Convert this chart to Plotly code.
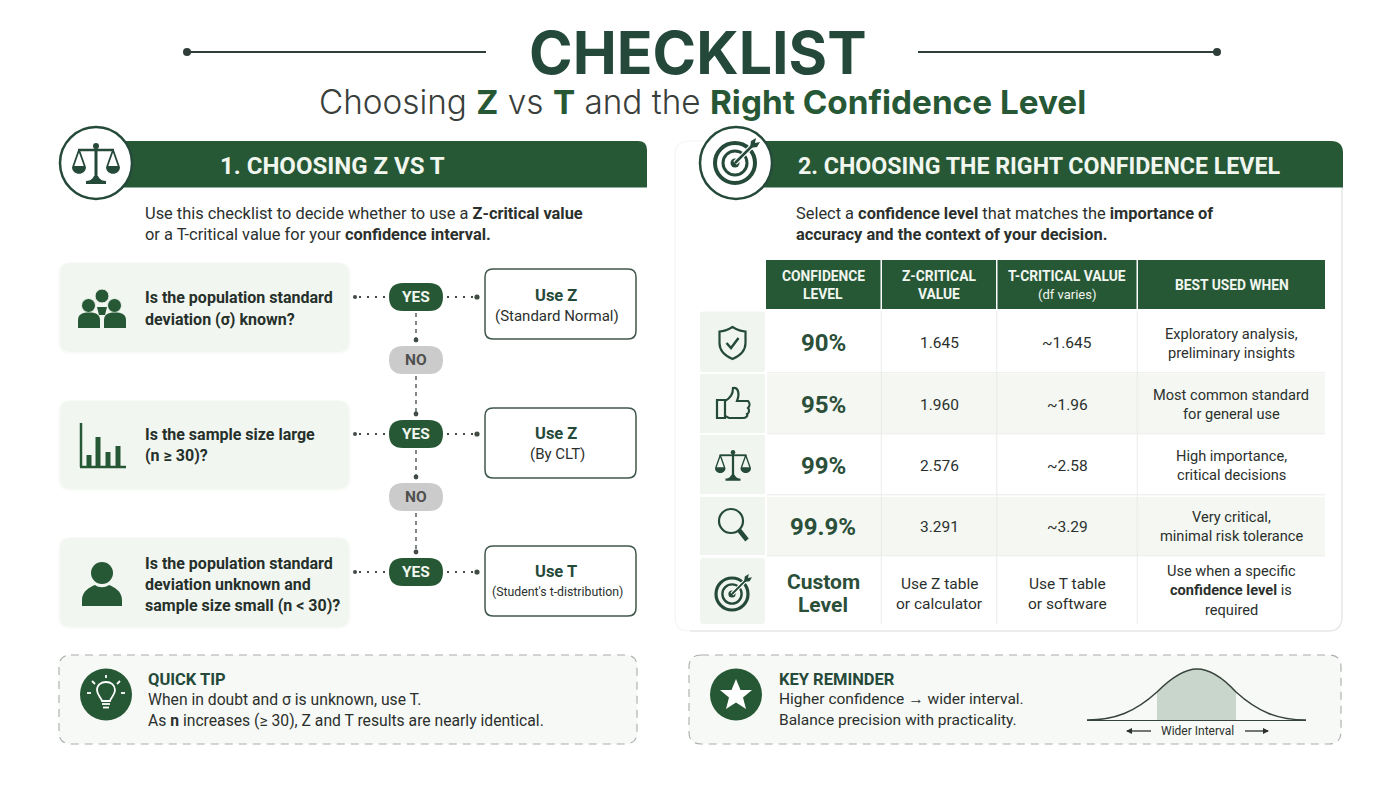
#!/usr/bin/env python3
"""
Checklist infographic: choosing Z vs T and the confidence level
"""

import re
import plotly.graph_objects as go

# Text and values
title = "CHECKLIST"
subtitle_parts = [("Choosing ", False), ("Z", True), (" vs ", False), ("T", True), (" and the ", False), ("Right Confidence Level", True)]
left_heading = "1. CHOOSING Z VS T"
right_heading = "2. CHOOSING THE RIGHT CONFIDENCE LEVEL"
left_intro = ["Use this checklist to decide whether to use a <b>Z-critical value</b>",
              "or a T-critical value for your <b>confidence interval.</b>"]
right_intro = ["Select a <b>confidence level</b> that matches the <b>importance of</b>",
               "<b>accuracy and the context of your decision.</b>"]
questions = [["Is the population standard", "deviation (σ) known?"],
             ["Is the sample size large", "(n ≥ 30)?"],
             ["Is the population standard", "deviation unknown and", "sample size small (n < 30)?"]]
results = [("Use Z", "(Standard Normal)"), ("Use Z", "(By CLT)"), ("Use T", "(Student's t-distribution)")]
table_headers = [["CONFIDENCE", "LEVEL"], ["Z-CRITICAL", "VALUE"], ["T-CRITICAL VALUE", "(df varies)"], ["BEST USED WHEN"]]
confidence_levels = [["90%"], ["95%"], ["99%"], ["99.9%"], ["Custom", "Level"]]
z_values = [["1.645"], ["1.960"], ["2.576"], ["3.291"], ["Use Z table", "or calculator"]]
t_values = [["~1.645"], ["~1.96"], ["~2.58"], ["~3.29"], ["Use T table", "or software"]]
best_used = [["Exploratory analysis,", "preliminary insights"],
             ["Most common standard", "for general use"],
             ["High importance,", "critical decisions"],
             ["Very critical,", "minimal risk tolerance"],
             ["Use when a specific", "<b>confidence level</b> is", "required"]]
tip_lines = ["When in doubt and σ is unknown, use T.",
             "As <b>n</b> increases (≥ 30), Z and T results are nearly identical."]
reminder_lines = ["Higher confidence → wider interval.", "Balance precision with practicality."]

GREEN = "#275836"
DARK = "#254a3a"
INK = "#2b302d"
PALE = "#f2f6f0"
FLOW = "#414c45"
BODY = "Roboto"

shapes = []
notes = []


def text(x, y, s, size=15, color=INK, anchor="center", family=BODY, weight=None):
    font = dict(family=family, size=size, color=color)
    if weight:
        font["weight"] = weight
    if anchor == "left":
        x -= 2  # annotations carry a small inner pad
    notes.append(dict(x=x, y=y, xref="x", yref="y", text=s, showarrow=False,
                      xanchor=anchor, yanchor="middle", font=font))


def path(d, fill=None, line=None, width=0, dash=None):
    ln = dict(color=line or "rgba(0,0,0,0)", width=width)
    if dash:
        ln["dash"] = dash
    shapes.append(dict(type="path", path=d, xref="x", yref="y", fillcolor=fill or "rgba(0,0,0,0)", line=ln))


def rrect(x0, y0, x1, y1, r=0, **kw):
    # corner radius either one number or (tl, tr, br, bl)
    tl, tr, br, bl = r if isinstance(r, tuple) else (r, r, r, r)
    d = (f"M{x0 + tl},{y0} L{x1 - tr},{y0} Q{x1},{y0} {x1},{y0 + tr} L{x1},{y1 - br} Q{x1},{y1} {x1 - br},{y1} "
         f"L{x0 + bl},{y1} Q{x0},{y1} {x0},{y1 - bl} L{x0},{y0 + tl} Q{x0},{y0} {x0 + tl},{y0} Z")
    path(d, **kw)


def circle(cx, cy, r, fill=None, line=None, width=0):
    shapes.append(dict(type="circle", xref="x", yref="y", x0=cx - r, x1=cx + r, y0=cy - r, y1=cy + r,
                       fillcolor=fill or "rgba(0,0,0,0)", line=dict(color=line or "rgba(0,0,0,0)", width=width)))


def seg(x0, y0, x1, y1, color=DARK, width=2, dash=None):
    ln = dict(color=color, width=width)
    if dash:
        ln["dash"] = dash
    shapes.append(dict(type="line", xref="x", yref="y", x0=x0, y0=y0, x1=x1, y1=y1, line=ln))


def place(d, cx, cy, s=1.0):
    # move an icon path drawn around 0,0 to its spot
    vals = iter(range(100000))

    def shift(m):
        v = float(m.group(0))
        return f"{(cx + v * s) if next(vals) % 2 == 0 else (cy + v * s):.2f}"
    return re.sub(r"-?\d+\.?\d*", shift, d)


def scales_icon(cx, cy, s=1.0, color=DARK):
    w = 3 * s
    seg(cx, cy - 17 * s, cx, cy + 17 * s, color, w)
    path(place("M-10,21 L10,21 L10,18 C5,18 3,15 2,13 L-2,13 C-3,15 -5,18 -10,18 Z", cx, cy, s), fill=color)
    seg(cx - 18 * s, cy - 13 * s, cx + 18 * s, cy - 13 * s, color, 2.5 * s)
    circle(cx, cy - 17 * s, 3 * s, fill=color)
    for side in (-1, 1):
        px = cx + side * 17 * s
        path(place("M0,-13 L-6,4 M0,-13 L6,4 M-6,4 L6,4", px, cy, s), line=color, width=1.8 * s)
        path(place("M-7,4 L7,4 C7,13 -7,13 -7,4 Z", px, cy, s), fill=color)


def target_icon(cx, cy, s=1.0, color=DARK):
    circle(cx, cy, 20 * s, line=color, width=4 * s)
    circle(cx, cy, 12 * s, line=color, width=3 * s)
    circle(cx, cy, 4.5 * s, fill=color)
    seg(cx, cy, cx + 18 * s, cy - 18 * s, "white", 5 * s)
    seg(cx, cy, cx + 18 * s, cy - 18 * s, color, 2.5 * s)
    path(place("M15,-15 L16,-22 L21,-25 L20,-20 L25,-21 L22,-16 Z", cx, cy, s), fill=color)


# Title block
text(698, 52, f"<b>{title}</b>", 59, "#24493a", family="Inter")
seg(187, 52, 486, 52, "#2f3e38", 2)
circle(187, 52, 4, fill="#2f3e38")
seg(918, 52, 1217, 52, "#2f3e38", 2)
circle(1217, 52, 4, fill="#2f3e38")
sub = "".join(f'<b><span style="color:{GREEN}">{p}</span></b>' if b else p for p, b in subtitle_parts)
text(702, 102, sub, 33.3, "#3a3f3c", family="Inter", weight=300)

# Left section header
rrect(96, 141, 647, 187.5, (0, 9, 0, 0), fill=GREEN)
circle(96, 163, 36, fill="white", line=DARK, width=2.5)
scales_icon(96, 163, 1.0)
text(332, 166, f"<b>{left_heading}</b>", 24, "#f1f6ef")
for i, s in enumerate(left_intro):
    text(145, 213 + 21 * i, s, 16.4, anchor="left")

# Question cards and the yes/no flow
card_tops = [263, 401, 538]
card_bottoms = [352, 489, 627]
pill_ys = [297, 434, 572]
no_ys = [360, 497]
box_tops = [269, 408, 546]
question_ys = [[297, 319], [434, 455], [563, 584, 605]]
result_ys = [(295, 316), (433, 454), (571, 592)]
result_sizes = [15, 15, 12.3]

for i in range(3):
    rrect(58, card_tops[i] - 1, 351, card_bottoms[i] + 2, 13, fill="#f9fbf8")
    rrect(60, card_tops[i], 349, card_bottoms[i], 11, fill=PALE)
    for y, s in zip(question_ys[i], questions[i]):
        text(145, y, f"<b>{s}</b>", 16, "#26302b", anchor="left")

    y = pill_ys[i]
    seg(359, y, 386, y, FLOW, 1.8, "2px,6px")
    circle(355, y, 2, fill=FLOW)
    seg(447, y, 476, y, FLOW, 1.8, "2px,6px")
    circle(477, y, 2.6, fill=FLOW)
    rrect(389, y - 14, 443, y + 14, 14, fill=GREEN)
    text(416, y, "<b>YES</b>", 15.5, "#f1f6ef")

    rrect(485, box_tops[i], 636, box_tops[i] + 70, 8, fill="white", line="#40584b", width=1.5)
    text(556, result_ys[i][0], f"<b>{results[i][0]}</b>", 16.5, DARK)
    text(557, result_ys[i][1], results[i][1], result_sizes[i], INK)

for i, y in enumerate(no_ys):
    seg(416, pill_ys[i] + 16, 416, y - 20, FLOW, 1.3, "4px,4px")
    circle(416, y - 20, 2.4, fill=FLOW)
    seg(416, y + 16, 416, pill_ys[i + 1] - 21, FLOW, 1.3, "4px,4px")
    circle(416, pill_ys[i + 1] - 20, 2.4, fill=FLOW)
    rrect(389, y - 14, 443, y + 14, 14, fill="#cbcbcb")
    text(416, y, "<b>NO</b>", 15.5, "#4f4f4f")

# Question icons: people, bars, person
for hx, hy in [(102, 296), (88.5, 305.5), (114.5, 305.5)]:
    circle(hx, hy, 7, fill=GREEN, line=PALE, width=1)
path("M78,328 L78,320 C78,314 83,312.5 89,312.5 C95,312.5 100,314 100,320 L100,328 Z", fill=GREEN)
path("M104,328 L104,320 C104,314 109,312.5 115,312.5 C121,312.5 126,314 126,320 L126,328 Z", fill=GREEN)
path("M97,307 L107,307 L105,315 L99,315 Z", fill=GREEN)

seg(81, 423, 81, 467, GREEN, 2.5)
seg(80, 467, 126, 467, GREEN, 2.5)
for bx, by in [(89, 455), (98, 437), (108, 452), (118, 446)]:
    rrect(bx - 2.5, by, bx + 2.5, 467, 0, fill=GREEN)

circle(102, 573, 11, fill=GREEN)
path("M82,606 L82,600 C82,591 90,587 95,585 C99,588 105,588 109,585 C114,587 122,591 122,600 L122,606 Z", fill=GREEN)

# Right panel, faint on the left and stronger on the right and bottom
rrect(675, 141, 1342, 631, 14, fill="white", line="#f3f5f3", width=1.2)
path("M1342,187 L1342,617 Q1342,631 1328,631 L690,631", line="#e6e9e6", width=1.5)
rrect(735, 141, 1343, 187.5, (0, 12, 0, 0), fill=GREEN)
circle(736, 163, 36, fill="white", line=DARK, width=2.5)
target_icon(735, 163, 1.0)
text(1039.5, 166, f"<b>{right_heading}</b>", 23.2, "#f1f6ef")
for i, s in enumerate(right_intro):
    text(796, 213 + 21 * i, s, 16.4, anchor="left")

# Table
col_lefts = [766, 882, 997.5, 1138]
col_rights = [880.5, 996, 1136.5, 1325]
col_mids = [823, 939, 1067, 1231]
row_tops = [311.5, 374, 435, 497, 558]
row_bottoms = [372, 433, 494, 555, 624]
row_mids = [343, 405, 466, 527, 593]
header_ys = [[276, 294], [276, 294], [276, 294], [285]]

for x0, x1, lines, ys in zip(col_lefts, col_rights, table_headers, header_ys):
    rrect(x0, 260, x1, 309, 0, fill=GREEN)
    mid = (x0 + x1) / 2
    for y, s in zip(ys, lines):
        if s.startswith("("):
            text(mid, y, s, 13, "#f1f6ef")
        else:
            text(mid, y, f"<b>{s}</b>", 13.8, "#f1f6ef")

for i in range(5):
    rrect(700, row_tops[i], 765, row_bottoms[i], 3 if i in (0, 4) else 0, fill="#f1f5f0")
    if i % 2 == 1:
        rrect(767, row_tops[i], 1325, row_bottoms[i], 0, fill="#f4f7f2")
    if i < 4:
        seg(767, row_bottoms[i] + 0.8, 1325, row_bottoms[i] + 0.8, "#e8ece8", 1)

for x in [881.3, 996.8, 1137.2]:
    seg(x, 311, x, 624, "#e8ece8", 1)

pct_ys = [[343], [405], [466], [527], [582, 605]]
z_ys = [[343], [405], [466], [527], [584, 604]]
best_ys = [[334, 353], [395, 414], [456, 475], [517, 536], [571, 590, 610]]
for i in range(5):
    for y, s in zip(pct_ys[i], confidence_levels[i]):
        text(col_mids[0], y, f"<b>{s}</b>", 24 if i < 4 else 21, "#2c4f3a")
    for y, s in zip(z_ys[i], z_values[i]):
        text(col_mids[1], y, s, 15.5)
    for y, s in zip(z_ys[i], t_values[i]):
        text(col_mids[2], y, s, 15.5)
    for y, s in zip(best_ys[i], best_used[i]):
        text(col_mids[3], y, s, 14.6)

# Table row icons
path(place("M0,-16 C5,-13 9,-11.5 13,-11.5 L13,0 C13,8 7,13 0,16 C-7,13 -13,8 -13,0 L-13,-11.5 C-9,-11.5 -5,-13 0,-16 Z", 732.5, 343),
     line=DARK, width=2.2)
path(place("M-6,0 L-1.5,5 L6,-5", 732.5, 343), line=DARK, width=2.5)

path("M717,400 L725,400 L725,418 L717,418 Z", line=DARK, width=2.2)
path("M725,401 C731,398 733,393 733,388 C738,387 740,393 737,401 L748,401 C750,403 750,406 748,408 "
     "C750,410 749,413 747,414 C748,416 746,418 743,418 L729,418 L725,416", line=DARK, width=2.2)

scales_icon(733, 465, 0.75)
circle(731, 521, 12, line=DARK, width=2.2)
seg(739, 530, 747, 540, DARK, 4.5)
target_icon(732, 594, 0.8)

# Quick tip and key reminder
for x0, x1 in [(59, 637), (689, 1341)]:
    rrect(x0, 655, x1, 744, 12, fill="#f7f9f6", line="#a9aea9", width=1.1, dash="8px,6px")

circle(106, 694.5, 26, fill=GREEN)
text(148, 679, "<b>QUICK TIP</b>", 16.5, DARK, anchor="left")
for y, s in zip([699, 720], tip_lines):
    text(148, y, s, 15.7, anchor="left")
path(place("M-4,7 C-5,3 -9,1 -9,-4 C-9,-9 -5,-12 0,-12 C5,-12 9,-9 9,-4 C9,1 5,3 4,7 Z", 106, 694), line="white", width=1.8)
seg(102, 704, 110, 704, "white", 1.8)
seg(103, 707.5, 109, 707.5, "white", 1.8)
for x0, y0, x1, y1 in [(106, 675, 106, 678), (92, 681, 95, 684), (120, 681, 117, 684), (87, 693, 91, 693), (121, 693, 125, 693)]:
    seg(x0, y0, x1, y1, "white", 1.8)

circle(736, 694.5, 26, fill=GREEN)
path(place("M0,-16 L4.5,-5 L16,-5 L7,2.5 L10,14 L0,7.5 L-10,14 L-7,2.5 L-16,-5 L-4.5,-5 Z", 736, 695), fill="white")
text(779, 679, "<b>KEY REMINDER</b>", 16.5, DARK, anchor="left")
for y, s in zip([699, 720], reminder_lines):
    text(779, y, s, 15.5, anchor="left")

# Small bell curve
path("M1157,692 C1170,679 1183,669 1197,669 C1211,669 1224,679 1236,692 L1236,720 L1157,720 Z", fill="#c9d6cb")
path("M1087,720 C1115,720 1135,712 1157,692 C1170,679 1183,669 1197,669 C1211,669 1224,679 1236,692 "
     "C1258,712 1278,720 1306,720", line="#37423c", width=1.5)
seg(1087, 720.5, 1306, 720.5, "#37423c", 1.2)
text(1197, 731, "Wider Interval", 12)
seg(1127, 731, 1151, 731, "#2b302d", 1.3)
path("M1126,731 L1132,728 L1132,734 Z", fill="#2b302d")
seg(1245, 731, 1268, 731, "#2b302d", 1.3)
path("M1269,731 L1263,728 L1263,734 Z", fill="#2b302d")

fig = go.Figure()
fig.update_layout(
    width=1400, height=788,
    margin=dict(l=0, r=0, t=0, b=0),
    paper_bgcolor="white", plot_bgcolor="white",
    xaxis=dict(range=[0, 1400], visible=False, fixedrange=True),
    yaxis=dict(range=[788, 0], visible=False, fixedrange=True),
    shapes=shapes, annotations=notes, showlegend=False,
)
fig.write_html("out.html", config=dict(displayModeBar=False), post_script="document.body.style.margin='0';")
